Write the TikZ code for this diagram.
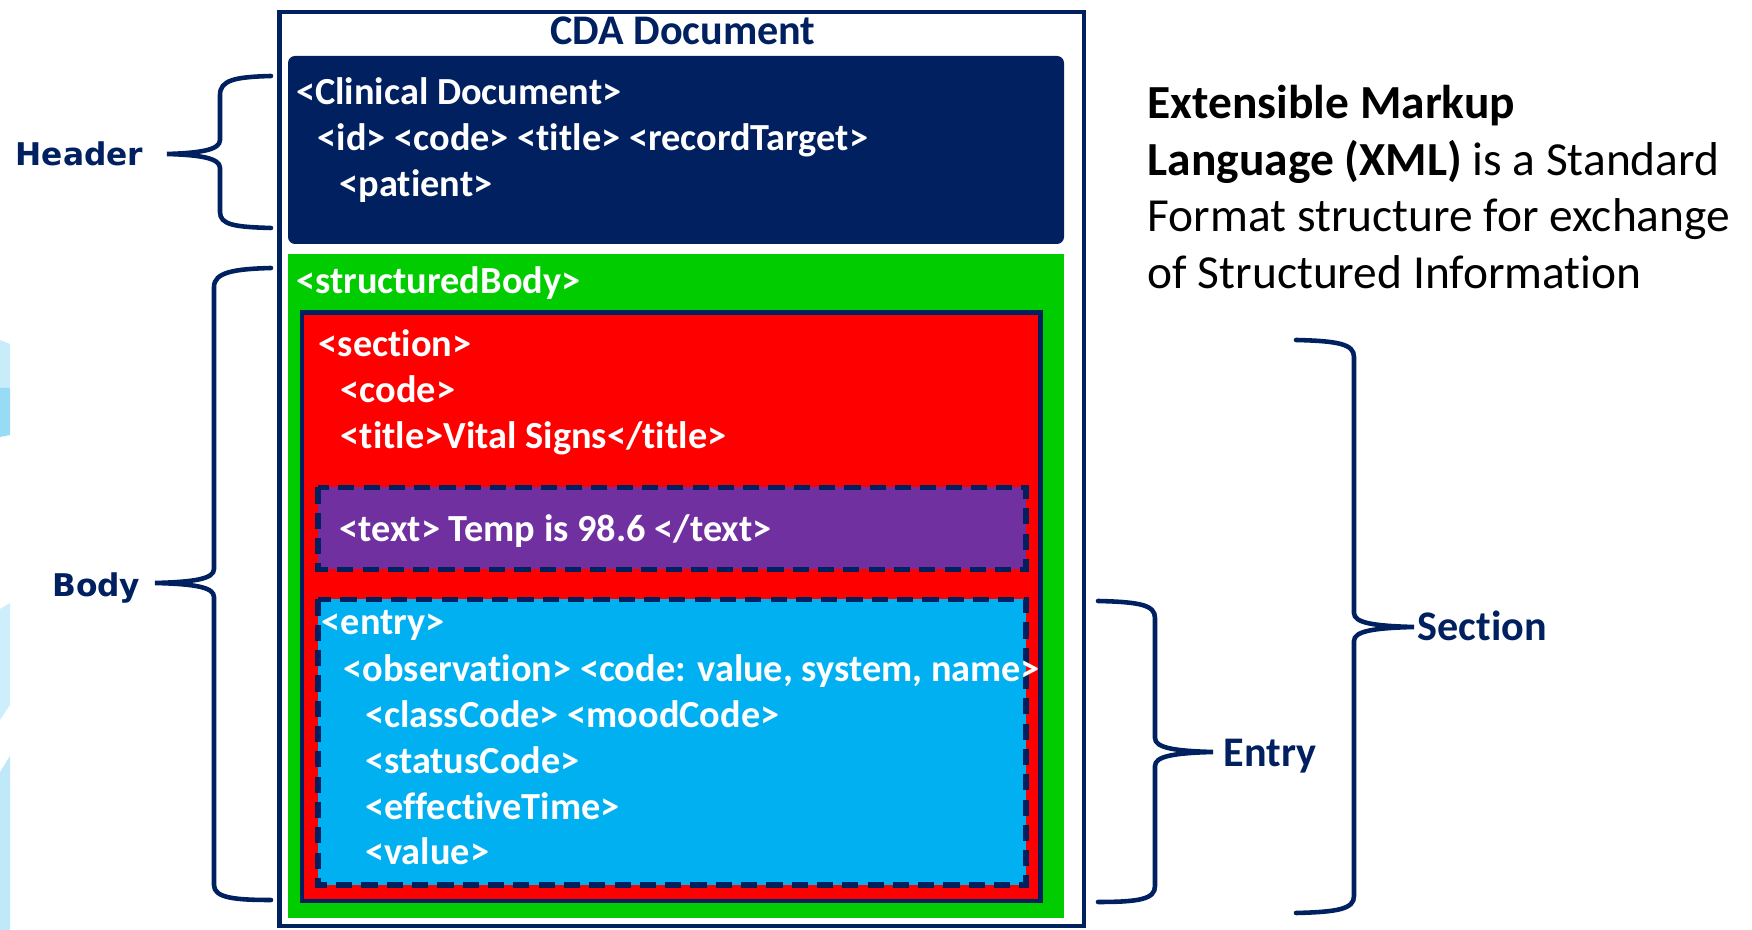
\documentclass[tikz,border=0pt]{standalone}
\usepackage{fontspec}
\usepackage{xcolor}
\usepackage{tikz}
\usetikzlibrary{positioning}
\setmainfont{Carlito}[Ligatures={NoCommon,NoContextual}, RawFeature={-liga;-clig;-dlig}]
\newfontfamily\labelfont{DejaVu Sans}

\definecolor{navy}{HTML}{002060}
\definecolor{bodygreen}{HTML}{00CC00}
\definecolor{secred}{HTML}{FF0000}
\definecolor{txtpurple}{HTML}{7030A0}
\definecolor{entryblue}{HTML}{00B0F0}

\begin{document}
\begin{tikzpicture}[
    tag/.style={text=white, font=\bfseries\fontsize{10.9}{13}\selectfont, anchor=base west, inner sep=0pt},
    side/.style={text=navy, font=\labelfont\bfseries\fontsize{8.9}{11}\selectfont, anchor=base east, inner sep=0pt},
    part/.style={text=navy, font=\bfseries\fontsize{12}{14}\selectfont, anchor=base west, inner sep=0pt},
    xml/.style={text=black, font=\fontsize{13.5}{16}\selectfont, anchor=base west, inner sep=0pt},
    brace/.style={draw=navy, line width=1.3pt, line cap=round},
    dashbox/.style={draw=navy, line width=1.5pt, dash pattern=on 4.6pt off 2.6pt}]
  \useasboundingbox (0,0) rectangle (17.52,9.30);

  % faint shapes on the left border
  \fill[color={rgb,255:red,200;green,236;blue,250}] (0,5.90) -- (0.10,5.86) -- (0.10,5.42) -- (0,5.42) -- cycle;
  \fill[color={rgb,255:red,151;green,219;blue,245}] (0,5.42) -- (0.10,5.42) -- (0.10,4.95) -- (0,4.93) -- cycle;
  \fill[color={rgb,255:red,205;green,238;blue,251}] (0,3.21) -- (0.10,3.27) -- (0.10,2.25) -- (0,2.10) -- cycle;
  \fill[color={rgb,255:red,191;green,232;blue,248}] (0,1.58) -- (0.10,1.74) -- (0.10,0) -- (0,0) -- cycle;

  % document frame and its parts
  \draw[navy, line width=1.3pt, fill=white] (2.795,9.18) rectangle (10.84,0.04);
  \fill[navy, rounded corners=2pt] (2.88,8.74) rectangle (10.64,6.86);
  \fill[bodygreen] (2.88,6.76) rectangle (10.64,0.12);
  \draw[navy, line width=1.3pt, fill=secred] (3.02,6.175) rectangle (10.405,0.29);
  \draw[dashbox, fill=txtpurple] (3.18,4.425) rectangle (10.26,3.605);
  \draw[dashbox, fill=entryblue] (3.18,3.305) rectangle (10.26,0.45);

  \node[text=navy, font=\bfseries\fontsize{12}{14}\selectfont, anchor=base, inner sep=0pt] (cda) at (6.83,8.85) {CDA Document};

  % header
  \node[tag] (cd) at (2.955,8.25) {<Clinical Document>};
  \node[tag] (id) at (3.17,7.79) {<id> <code> <title> <recordTarget>};
  \node[tag] (pt) at (3.39,7.33) {<patient>};

  % body
  \node[tag] (sb) at (2.955,6.36) {<structuredBody>};
  \node[tag] (sn) at (3.18,5.73) {<section>};
  \node[tag] (sc) at (3.40,5.27) {<code>};
  \node[tag] (st) at (3.40,4.81) {<title>Vital Signs</title>};
  \node[tag] (tx) at (3.39,3.88) {<text> Temp is 98.6 </text>};
  \node[tag] (en) at (3.21,2.95) {<entry>};
  \node[tag] (ob) at (3.43,2.48) {<observation> <code: value, system, name>};
  \node[tag] (cc) at (3.645,2.02) {<classCode> <moodCode>};
  \node[tag] (sa) at (3.645,1.56) {<statusCode>};
  \node[tag] (et) at (3.645,1.10) {<effectiveTime>};
  \node[tag] (va) at (3.645,0.65) {<value>};

  % braces and their labels
  \coordinate (hdrtip) at (1.67,7.76);
  \coordinate (bdytip) at (1.55,3.47);
  \coordinate (enttip) at (12.13,1.78);
  \coordinate (sectip) at (14.14,3.03);

  \draw[brace] (2.71,8.54) .. controls (2.35,8.53) and (2.20,8.50) .. (2.20,8.35) -- (2.20,7.90)
    .. controls (2.20,7.80) and (2.00,7.77) .. (hdrtip) .. controls (2.00,7.75) and (2.20,7.72) .. (2.20,7.62)
    -- (2.20,7.18) .. controls (2.20,7.05) and (2.35,7.03) .. (2.71,7.02);
  \draw[brace] (2.71,6.62) .. controls (2.35,6.61) and (2.14,6.58) .. (2.14,6.43) -- (2.14,3.61)
    .. controls (2.14,3.51) and (1.94,3.48) .. (bdytip) .. controls (1.94,3.46) and (2.14,3.43) .. (2.14,3.33)
    -- (2.14,0.45) .. controls (2.14,0.32) and (2.35,0.30) .. (2.71,0.30);
  \draw[brace] (10.98,3.29) .. controls (11.40,3.28) and (11.55,3.25) .. (11.55,3.12) -- (11.55,1.92)
    .. controls (11.55,1.82) and (11.75,1.79) .. (enttip) .. controls (11.75,1.77) and (11.55,1.74) .. (11.55,1.64)
    -- (11.55,0.44) .. controls (11.55,0.31) and (11.40,0.28) .. (10.98,0.28);
  \draw[brace] (12.96,5.90) .. controls (13.38,5.89) and (13.54,5.86) .. (13.54,5.73) -- (13.54,3.17)
    .. controls (13.54,3.07) and (13.74,3.04) .. (sectip) .. controls (13.74,3.02) and (13.54,2.99) .. (13.54,2.89)
    -- (13.54,0.34) .. controls (13.54,0.21) and (13.38,0.18) .. (12.96,0.17);

  \node[side] (hdr) at (1.44,7.645) {Header};
  \node[side] (bdy) at (1.41,3.33) {Body};
  \node[part] (ent) at (12.23,1.63) {Entry};
  \node[part] (sec) at (14.17,2.89) {Section};

  % note on the right
  \node[xml] (x1) at (11.47,8.11) {\textbf{Extensible Markup}};
  \node[xml] (x2) at (11.47,7.54) {\textbf{Language (XML)} is a Standard};
  \node[xml] (x3) at (11.47,6.98) {Format structure for exchange};
  \node[xml] (x4) at (11.47,6.41) {of Structured Information};
\end{tikzpicture}
\end{document}
